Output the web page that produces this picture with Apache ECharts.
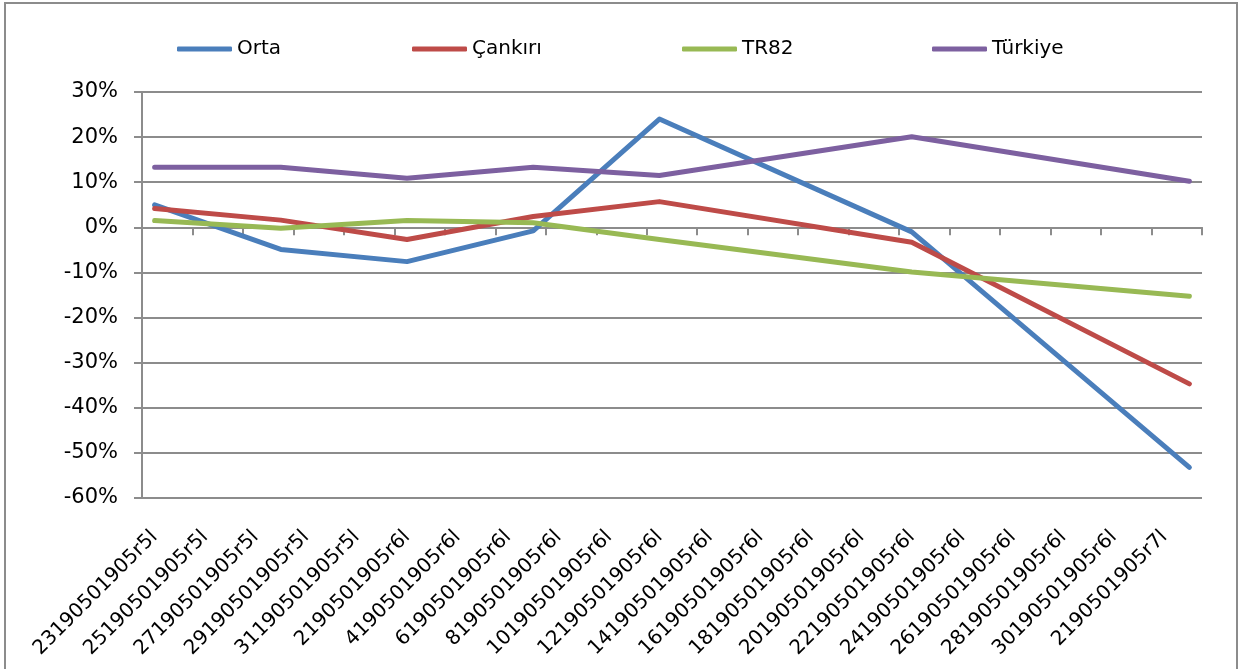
<!DOCTYPE html>
<html>
<head>
<meta charset="utf-8">
<script src="https://cdn.jsdelivr.net/npm/echarts@6/dist/echarts.min.js"></script>
<style>
html,body{margin:0;padding:0;background:#fff;}
#c{width:1242px;height:669px;}
</style>
</head>
<body>
<div id="c"></div>
<script>
// Category axis: one slot per day (23 May .. 3 July); every other one is labelled
var categories = [
  "23190501905r5l","24190501905r5l","25190501905r5l","26190501905r5l","27190501905r5l",
  "28190501905r5l","29190501905r5l","30190501905r5l","31190501905r5l",
  "1190501905r6l","2190501905r6l","3190501905r6l","4190501905r6l","5190501905r6l",
  "6190501905r6l","7190501905r6l","8190501905r6l","9190501905r6l","10190501905r6l",
  "11190501905r6l","12190501905r6l","13190501905r6l","14190501905r6l","15190501905r6l",
  "16190501905r6l","17190501905r6l","18190501905r6l","19190501905r6l","20190501905r6l",
  "21190501905r6l","22190501905r6l","23190501905r6l","24190501905r6l","25190501905r6l",
  "26190501905r6l","27190501905r6l","28190501905r6l","29190501905r6l","30190501905r6l",
  "1190501905r7l","2190501905r7l","3190501905r7l"
];
// Observation slots (index into categories) and values in %
var obsIndex = [0, 5, 10, 15, 20, 30, 41];
var orta    = [5.0, -4.9, -7.6, -0.8, 24.0, -1.0, -53.2];
var cankiri = [4.2,  1.6, -2.7,  2.4,  5.7, -3.3, -34.7];
var tr82    = [1.5, -0.2,  1.5,  1.0, -2.7, -9.9, -15.3];
var turkiye = [13.3, 13.3, 10.9, 13.3, 11.5, 20.1, 10.2];
var seriesNames = ["Orta", "Çankırı", "TR82", "Türkiye"];
var colors = ["#4A7EBB", "#BE4B48", "#98B954", "#7D60A0"];
var yTicks = [-60, -50, -40, -30, -20, -10, 0, 10, 20, 30];

function spread(vals) {
  var arr = categories.map(function(){ return null; });
  obsIndex.forEach(function(ix, i){ arr[ix] = vals[i]; });
  return arr;
}
var allVals = [orta, cankiri, tr82, turkiye];

var FONT = "DejaVu Sans";
var legendLefts = [172, 407, 677, 927];

var chart = echarts.init(document.getElementById('c'), null, {renderer: 'canvas'});
var option = {
  animation: false,
  backgroundColor: '#ffffff',
  graphic: [{
    type: 'rect', silent: true, z: -10,
    shape: {x: 5, y: 3, width: 1232, height: 720},
    style: {fill: 'none', stroke: '#8c8c8c', lineWidth: 2}
  }],
  legend: seriesNames.map(function(n, i){
    return {
      data: [n], left: legendLefts[i], top: 34,
      icon: 'roundRect', itemWidth: 55, itemHeight: 5, itemGap: 5,
      textStyle: {fontFamily: FONT, fontSize: 20, color: '#000'}
    };
  }),
  grid: {left: 142, right: 40, top: 92, bottom: 171, containLabel: false},
  xAxis: [{
    type: 'category', data: categories, boundaryGap: true,
    axisLine: {show: false, onZero: false},
    axisTick: {show: false},
    axisLabel: {
      interval: 1, rotate: 45, margin: 36,
      fontFamily: FONT, fontSize: 20, color: '#000'
    },
    splitLine: {show: false}
  }, {
    type: 'category', data: categories, boundaryGap: true, position: 'bottom',
    axisLine: {show: true, onZero: true, lineStyle: {color: '#8c8c8c', width: 2}},
    axisTick: {show: true, interval: 1, length: 8, lineStyle: {color: '#8c8c8c', width: 2}},
    axisLabel: {show: false},
    splitLine: {show: false}
  }],
  yAxis: {
    type: 'value', min: yTicks[0], max: yTicks[yTicks.length - 1], interval: 10,
    axisLine: {show: true, lineStyle: {color: '#8c8c8c', width: 2}},
    axisTick: {show: true, length: 8, lineStyle: {color: '#8c8c8c', width: 2}},
    axisLabel: {
      margin: 24, fontFamily: FONT, fontSize: 21, color: '#000',
      formatter: function(v){ return v + '%'; }
    },
    splitLine: {show: true, lineStyle: {color: '#8c8c8c', width: 2}}
  },
  series: seriesNames.map(function(n, i){
    return {
      name: n, type: 'line', xAxisIndex: 0,
      data: spread(allVals[i]), connectNulls: true,
      symbol: 'none', smooth: false,
      itemStyle: {color: colors[i]},
      lineStyle: {color: colors[i], width: 5, cap: 'round', join: 'round'}
    };
  })
};
chart.setOption(option);
</script>
</body>
</html>
